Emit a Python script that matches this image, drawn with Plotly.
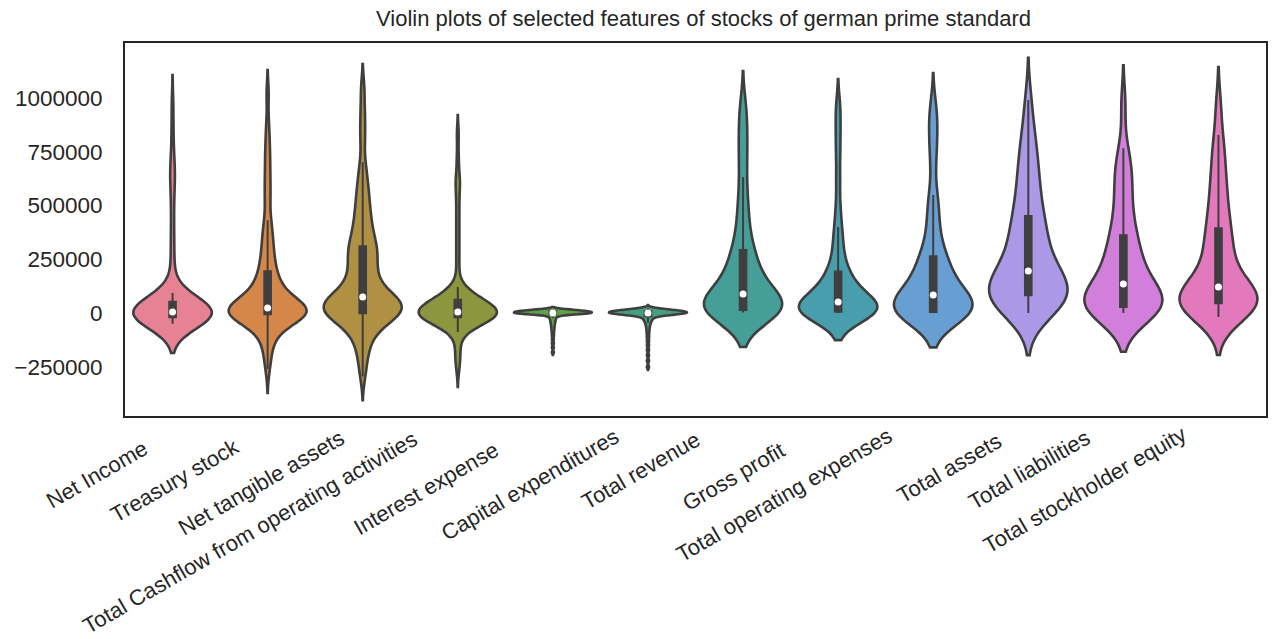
import colorsys
import numpy as np
import plotly.graph_objects as go

# feature names (x categories)
features = ["Net Income", "Treasury stock", "Net tangible assets",
            "Total Cashflow from operating activities", "Interest expense",
            "Capital expenditures", "Total revenue", "Gross profit",
            "Total operating expenses", "Total assets", "Total liabilities",
            "Total stockholder equity"]

# sample values per feature, in thousands
net_income = [-50, -46, -43, -40, -38, -36, -34, -32, -30, -29, -28, -27, -26, -25, -24, -23, -22, -21, -20, -20, -19,
              -18, -16, -15, -13, -12, -10, -9, -8, -6, -5, -4, -3, -2, -1, 0, 1, 2, 3, 4, 5,
              7, 9, 11, 13, 15, 17, 19, 21, 23, 25, 28, 30, 33, 35, 38, 41, 44, 46, 48, 51,
              55, 60, 65, 71, 78, 85, 93, 175, 230, 290, 350, 420, 490, 560, 620, 650, 680, 750, 850, 971]
treasury_stock = [-262, -215, -180, -150, -125, -105, -90, -76, -64, -54, -45, -38, -32, -27, -22, -18, -14, -11, -8, -6, -5,
                  -3, -1, 1, 2, 4, 5, 7, 8, 10, 11, 12, 13, 14, 15, 16, 17, 18, 20, 21, 23,
                  28, 34, 40, 46, 52, 58, 65, 72, 79, 86, 94, 102, 110, 119, 128, 138, 149, 160, 175, 190,
                  205, 222, 240, 260, 280, 302, 325, 350, 378, 405, 432, 500, 545, 590, 640, 690, 745, 800, 880, 1020]
net_tangible_assets = [-295, -240, -200, -168, -140, -118, -100, -85, -72, -60, -50, -41, -33, -26, -20, -15, -11, -7, -4, -2, 0,
                       4, 8, 12, 16, 20, 24, 28, 32, 36, 40, 44, 48, 52, 56, 60, 63, 66, 69, 72, 74,
                       84, 94, 104, 114, 125, 136, 148, 160, 172, 185, 198, 211, 224, 238, 252, 265, 278, 290, 299, 307,
                       320, 335, 350, 368, 386, 405, 425, 447, 470, 495, 520, 548, 578, 610, 650, 702, 800, 870, 950, 1048]
cashflow_operating = [-254, -215, -180, -150, -88, -80, -72, -65, -58, -52, -47, -42, -38, -34, -31, -28, -26, -24, -22, -20, -19,
                      -17, -16, -14, -13, -11, -10, -8, -7, -6, -4, -3, -2, -1, 0, 1, 2, 3, 3, 4, 5,
                      8, 11, 14, 17, 20, 23, 26, 29, 32, 35, 38, 41, 44, 46, 48, 50, 52, 55, 57, 60,
                      65, 70, 76, 82, 88, 95, 103, 112, 121, 200, 260, 320, 380, 440, 500, 560, 610, 630, 720, 831]
interest_expense = [-183, -160, -140, -122, -106, -92, -80, -70, -61, -53, -46, -40, -34, -29, -24, -20, -16, -13, -10, -8, -6,
                    -5, -5, -4, -4, -3, -3, -3, -2, -2, -2, -1, -1, -1, -1, 0, 0, 0, 0, 0, 0,
                    1, 1, 1, 1, 2, 2, 2, 3, 3, 3, 4, 4, 5, 5, 6, 6, 7, 7, 8, 8,
                    9, 9, 10, 10, 10, 11, 11, 11, 12, 12, 12, 13, 13, 14, 14, 14, 15, 15, 16, 16]
capital_expenditures = [-251, -222, -196, -172, -150, -130, -112, -96, -82, -70, -60, -52, -45, -39, -34, -30, -26, -22, -19, -16, -14,
                        -12, -11, -10, -9, -8, -8, -7, -6, -6, -5, -5, -4, -4, -3, -3, -2, -2, -1, -1, 0,
                        0, 0, 1, 1, 1, 2, 2, 2, 3, 3, 3, 4, 4, 5, 5, 6, 6, 7, 7, 8,
                        8, 9, 9, 10, 10, 11, 11, 12, 12, 13, 13, 14, 14, 15, 16, 17, 18, 19, 21, 23]
total_revenue = [2, 3, 4, 5, 6, 7, 8, 9, 11, 12, 14, 20, 27, 34, 41, 48, 55, 62, 70, 79, 88,
                 105, 122, 140, 158, 177, 197, 218, 240, 262, 284, 320, 365, 420, 480, 540, 633, 720, 800, 880, 966]
gross_profit = [0, 1, 1, 2, 2, 3, 3, 4, 4, 5, 6, 9, 13, 17, 21, 26, 31, 36, 41, 46, 51,
                62, 74, 86, 98, 111, 124, 138, 153, 169, 186, 215, 250, 300, 350, 400, 490, 620, 750, 860, 962]
operating_expenses = [0, 1, 1, 2, 2, 3, 3, 4, 4, 5, 5, 12, 20, 28, 36, 44, 52, 60, 68, 76, 84,
                      100, 117, 134, 152, 170, 188, 206, 222, 240, 256, 290, 330, 380, 440, 500, 549, 700, 800, 880, 956]
total_assets = [0, 10, 20, 30, 40, 50, 58, 65, 72, 78, 84, 95, 106, 117, 128, 139, 150, 162, 173, 184, 195,
                220, 245, 270, 295, 320, 345, 370, 395, 420, 442, 480, 520, 560, 600, 645, 690, 740, 800, 865, 991]
total_liabilities = [0, 3, 6, 9, 12, 15, 18, 21, 24, 26, 28, 38, 48, 58, 68, 79, 90, 101, 112, 123, 135,
                     155, 175, 195, 215, 237, 260, 283, 306, 330, 353, 390, 430, 470, 520, 570, 620, 660, 700, 767, 972]
stockholder_equity = [-19, -10, -2, 6, 13, 20, 27, 33, 38, 43, 47, 55, 62, 69, 76, 84, 91, 98, 106, 113, 121,
                      145, 170, 195, 222, 250, 278, 305, 332, 360, 386, 420, 460, 500, 545, 590, 640, 700, 760, 828, 968]

# kde bandwidth per feature, in thousands
bandwidths = [68, 55, 55, 45, 6, 7, 80, 63, 80, 98, 90, 88]

y_ticks = [-250000, 0, 250000, 500000, 750000, 1000000]
y_ticktext = ["\u2212250000", "0", "250000", "500000", "750000", "1000000"]

title = "Violin plots of selected features of stocks of german prime standard"

series = [net_income, treasury_stock, net_tangible_assets, cashflow_operating, interest_expense,
          capital_expenditures, total_revenue, gross_profit, operating_expenses, total_assets,
          total_liabilities, stockholder_equity]

# husl palette, desaturated like seaborn's violinplot (saturation=.75)
husl = ["#f77189", "#ec8530", "#c29831", "#97a431", "#59ae3a", "#33af81",
        "#36ada4", "#38aabf", "#56a0e4", "#a48cf4", "#de6fea", "#f566c1"]


def desaturate(hexcol, prop=0.75):
    r, g, b = [int(hexcol[i:i + 2], 16) / 255 for i in (1, 3, 5)]
    h, l, s = colorsys.rgb_to_hls(r, g, b)
    r, g, b = colorsys.hls_to_rgb(h, l, s * prop)
    return "rgb(%d,%d,%d)" % (round(r * 255), round(g * 255), round(b * 255))


colors = [desaturate(c) for c in husl]
dark = "#3f3f3f"
font = "Liberation Sans, Arial, sans-serif"

fig = go.Figure()
for name, vals, bw, col in zip(features, series, bandwidths, colors):
    v = np.array(vals) * 1000
    fig.add_trace(go.Violin(
        x=[name] * len(v), y=v, name=name, width=0.82, bandwidth=bw * 1000,
        spanmode="soft", scalemode="width", fillcolor=col,
        line=dict(color=dark, width=2.6), points=False,
        box=dict(visible=True, width=0.085, fillcolor=dark, line=dict(color=dark, width=2)),
        meanline_visible=False, showlegend=False, hoverinfo="skip"))

medians = [float(np.median(np.array(s) * 1000)) for s in series]
fig.add_trace(go.Scatter(x=features, y=medians, mode="markers", showlegend=False,
                         marker=dict(color="white", size=7, line=dict(width=0)), hoverinfo="skip"))

# x labels as rotated annotations (centre of each label, in pixels)
label_cx = [97, 175, 262, 250, 427, 531, 642, 735, 786, 950, 1031, 1087]
label_cy = [475, 481, 483, 532, 489, 485, 471, 477, 495, 468, 469, 490]
L, R, T, B = 125, 4, 43, 223
W, H = 1272, 639
pw, ph = W - L - R, H - T - B
for name, cx, cy in zip(features, label_cx, label_cy):
    fig.add_annotation(text=name, xref="paper", yref="paper",
                       x=(cx - L) / pw, y=(H - B - cy) / ph, xanchor="center", yanchor="middle",
                       textangle=-30, showarrow=False, font=dict(family=font, size=22, color="#262626"))

fig.add_annotation(text=title, xref="paper", yref="paper", x=(705 - L) / pw, y=(H - B - 19) / ph,
                   xanchor="center", yanchor="middle", showarrow=False,
                   font=dict(family=font, size=22, color="#262626"))

fig.update_layout(
    width=W, height=H, autosize=False,
    margin=dict(l=L, r=R, t=T, b=B),
    paper_bgcolor="white", plot_bgcolor="white",
    violinmode="overlay",
    font=dict(family=font, color="#262626"),
)
fig.update_xaxes(type="category", range=[-0.5, 11.5], showticklabels=False, ticks="",
                 showgrid=False, zeroline=False, showline=True, mirror=True,
                 linecolor="#262626", linewidth=2)
fig.update_yaxes(range=[-479000, 1256000], tickvals=y_ticks, ticktext=y_ticktext, ticks="",
                 ticklabelstandoff=16, tickfont=dict(size=22.5, color="#262626"),
                 showgrid=False, zeroline=False, showline=True, mirror=True,
                 linecolor="#262626", linewidth=2)

fig.write_html("out.html", config={"displayModeBar": False},
               post_script="document.body.style.margin='0';")
